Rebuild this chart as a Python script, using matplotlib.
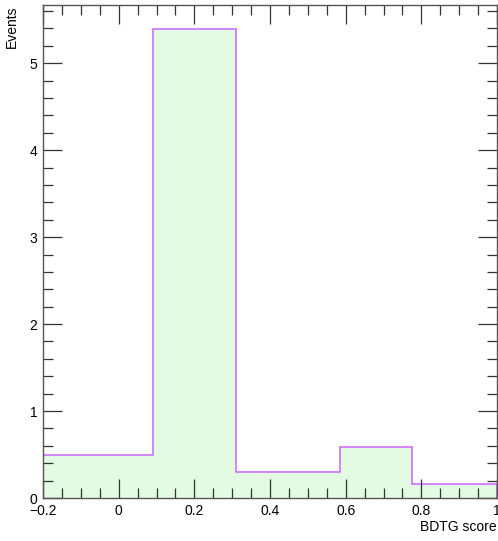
import numpy as np
import matplotlib.pyplot as plt
from matplotlib.ticker import MultipleLocator

plt.rcParams['font.family'] = ['Liberation Sans', 'DejaVu Sans']

# variable-width bins of the BDTG output
bin_edges = [-0.2, 0.09, 0.31, 0.585, 0.775, 1.0]
events = [0.49, 5.39, 0.30, 0.585, 0.16]

fig = plt.figure(figsize=(4.98, 5.41), dpi=100)
ax = fig.add_axes([43 / 498, 1 - 498 / 541, 454 / 498, 493 / 541])

ax.stairs(events, bin_edges, fill=True, color='#e2fbe2', linewidth=0)
ax.stairs(events, bin_edges, color='#c964ff', linewidth=1.1)

ax.set_xlim(-0.2, 1.0)
ax.set_ylim(0, 5.67)

ax.xaxis.set_minor_locator(MultipleLocator(0.05))
ax.yaxis.set_major_locator(MultipleLocator(1))
ax.yaxis.set_minor_locator(MultipleLocator(0.2))
ax.set_xticks([-0.2, 0, 0.2, 0.4, 0.6, 0.8, 1.0])
ax.set_xticklabels(['\u22120.2', '0', '0.2', '0.4', '0.6', '0.8', '1'])

ax.tick_params(which='both', direction='in', top=True, right=True,
               colors='#333333', labelcolor='black', labelsize=10)
ax.tick_params(which='major', length=14, width=0.9, pad=4)
ax.tick_params(which='minor', length=7.5, width=0.9)
ax.tick_params(axis='y', pad=4)

for s in ax.spines.values():
    s.set_color('#555555')
    s.set_linewidth(1.0)

fig.text(12 / 498, 1 - 5 / 541, 'Events', rotation=90, ha='center', va='top', fontsize=10)
fig.text(497 / 498, 1 - 527 / 541, 'BDTG score', ha='right', va='center', fontsize=10)

fig.savefig('out.png', dpi=100)
